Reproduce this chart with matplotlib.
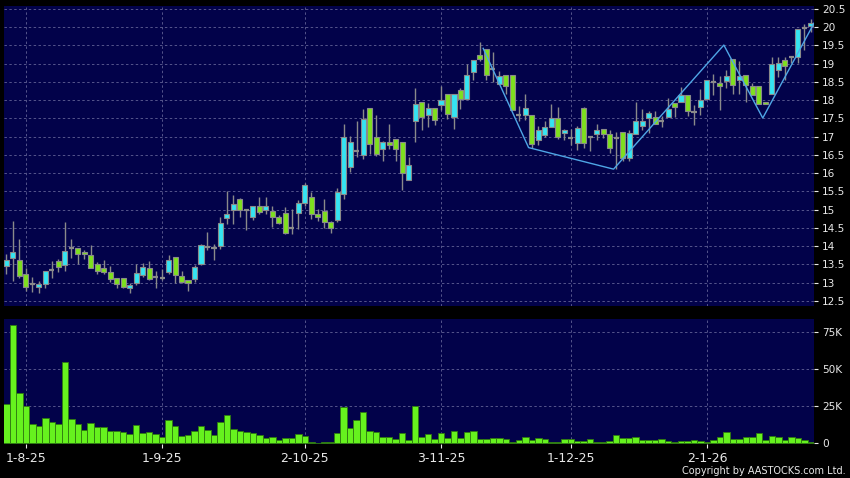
import matplotlib
matplotlib.use("Agg")
import matplotlib.pyplot as plt

# ---------------- data ----------------
opens = [13.46, 13.68, 13.63, 13.24, 12.95, 12.89, 12.96, 13.36, 13.60, 13.49,
         13.96, 13.96, 13.85, 13.77, 13.51, 13.41, 13.30, 13.13, 13.13, 12.84,
         13.00, 13.22, 13.39, 13.16, 13.13, 13.30, 13.70, 13.19, 13.07, 13.11,
         13.52, 13.98, 13.95, 14.00, 14.78, 15.00, 15.30, 14.98, 14.81, 15.09,
         14.98, 14.97, 14.80, 14.90, 14.51, 14.90, 15.18, 15.36, 14.88, 14.97,
         14.67, 14.71, 15.44, 16.17, 16.61, 16.49, 17.78, 17.00, 16.66, 16.84,
         16.93, 16.84, 15.81, 17.43, 17.95, 17.60, 17.78, 17.87, 18.18, 17.55,
         18.27, 18.04, 18.77, 19.24, 19.41, 18.86, 18.45, 18.68, 18.68, 17.58,
         17.60, 17.58, 16.90, 17.05, 17.27, 17.50, 17.09, 16.96, 16.82, 17.78,
         17.00, 17.07, 17.22, 17.06, 16.97, 17.14, 16.41, 17.08, 17.28, 17.50,
         17.55, 17.44, 17.53, 17.91, 17.96, 18.14, 17.67, 17.81, 18.03, 18.49,
         18.48, 18.52, 19.12, 18.55, 18.69, 18.39, 18.39, 17.96, 18.16, 18.83,
         19.10, 19.18, 19.19, 19.98, 20.02]
highs = [13.79, 14.68, 14.19, 13.41, 13.15, 13.05, 13.33, 13.58, 13.66, 14.66,
         14.19, 13.96, 13.90, 14.04, 13.57, 13.61, 13.45, 13.13, 13.13, 12.99,
         13.52, 13.55, 13.60, 13.33, 13.37, 13.75, 13.70, 13.33, 13.07, 13.47,
         14.06, 14.40, 14.06, 14.79, 15.50, 15.39, 15.32, 15.02, 15.09, 15.34,
         15.34, 15.11, 14.85, 15.06, 15.01, 15.26, 15.73, 15.47, 15.01, 15.29,
         14.69, 15.59, 17.36, 17.02, 17.43, 17.75, 17.78, 17.60, 16.89, 17.34,
         16.93, 16.84, 16.44, 18.34, 17.95, 17.93, 17.78, 18.38, 18.18, 18.18,
         18.32, 19.00, 19.11, 19.59, 19.41, 19.32, 18.80, 18.68, 18.68, 17.85,
         18.18, 17.58, 17.28, 17.44, 17.90, 17.81, 17.20, 17.20, 17.28, 17.81,
         17.00, 17.36, 17.22, 17.18, 17.14, 17.14, 17.18, 17.94, 17.75, 17.69,
         17.69, 17.57, 18.07, 17.91, 18.37, 18.14, 17.87, 18.30, 18.56, 18.72,
         18.65, 18.83, 19.12, 19.06, 18.69, 18.46, 18.39, 17.96, 19.19, 19.19,
         19.19, 19.18, 19.95, 20.10, 20.22]
lows = [13.23, 13.04, 13.13, 12.76, 12.74, 12.72, 12.86, 13.12, 13.29, 13.33,
        13.68, 13.50, 13.66, 13.41, 13.25, 13.24, 13.02, 12.84, 12.84, 12.72,
        12.93, 13.16, 13.07, 12.84, 13.08, 13.25, 13.00, 12.98, 12.76, 13.02,
        13.49, 13.89, 13.62, 13.93, 14.61, 14.61, 14.80, 14.45, 14.72, 14.89,
        14.89, 14.52, 14.60, 14.33, 14.33, 14.47, 15.10, 14.74, 14.69, 14.51,
        14.35, 14.65, 15.29, 16.02, 16.43, 16.40, 16.52, 16.47, 16.34, 16.66,
        16.34, 15.54, 15.81, 16.85, 17.19, 17.26, 17.31, 17.74, 17.49, 17.22,
        17.77, 18.04, 18.54, 19.07, 18.54, 18.50, 18.45, 18.18, 17.72, 17.43,
        17.47, 16.70, 16.77, 16.98, 17.28, 16.93, 16.91, 16.77, 16.63, 16.68,
        16.61, 16.91, 16.95, 16.56, 16.11, 16.32, 16.32, 17.08, 17.18, 17.11,
        17.35, 17.26, 17.53, 17.53, 17.96, 17.57, 17.32, 17.60, 18.03, 18.14,
        17.73, 18.33, 18.16, 18.16, 17.96, 18.14, 17.90, 17.90, 18.16, 18.64,
        18.55, 19.01, 19.01, 19.38, 19.88]
closes = [13.63, 13.85, 13.19, 12.89, 12.95, 12.97, 13.33, 13.36, 13.44, 13.88,
          13.96, 13.78, 13.78, 13.41, 13.31, 13.30, 13.09, 12.95, 12.87, 12.93,
          13.27, 13.43, 13.09, 13.16, 13.13, 13.63, 13.20, 13.02, 12.98, 13.43,
          14.04, 13.98, 13.95, 14.64, 14.89, 15.16, 14.98, 14.98, 15.09, 14.93,
          15.10, 14.80, 14.63, 14.37, 14.51, 15.18, 15.67, 14.88, 14.79, 14.65,
          14.49, 15.47, 16.98, 16.84, 16.61, 17.48, 16.81, 16.52, 16.84, 16.77,
          16.66, 16.00, 16.22, 17.90, 17.55, 17.78, 17.45, 18.01, 17.63, 18.18,
          18.02, 18.70, 19.09, 19.13, 18.68, 18.86, 18.66, 18.40, 17.72, 17.58,
          17.78, 16.79, 17.18, 17.27, 17.50, 16.99, 17.18, 16.96, 17.25, 16.82,
          17.00, 17.18, 17.07, 16.69, 16.97, 16.41, 17.11, 17.44, 17.42, 17.66,
          17.35, 17.44, 17.75, 17.80, 18.14, 17.70, 17.67, 18.01, 18.54, 18.49,
          18.39, 18.66, 18.42, 18.66, 18.42, 18.14, 17.90, 17.90, 18.98, 19.01,
          18.94, 19.18, 19.94, 19.98, 20.11]
volumes_k = [26.8, 80.0, 33.6, 24.8, 12.8, 11.9, 16.9, 14.2, 13.3, 54.7,
             16.4, 12.8, 9.0, 13.5, 10.8, 11.0, 8.3, 8.3, 7.4, 6.3,
             12.4, 7.0, 7.7, 6.1, 4.3, 15.5, 11.5, 5.0, 5.4, 8.3,
             11.7, 8.8, 5.4, 14.6, 18.9, 9.7, 8.1, 7.9, 7.0, 5.9,
             3.4, 4.3, 2.3, 3.8, 3.8, 6.1, 5.2, 1.1, 0.5, 0.9,
             0.9, 6.8, 24.3, 10.4, 15.8, 20.9, 8.3, 7.4, 4.3, 4.3,
             2.9, 6.8, 2.3, 25.0, 4.0, 6.5, 2.7, 6.8, 3.4, 8.6,
             3.6, 7.7, 8.1, 3.2, 3.2, 3.4, 3.4, 2.7, 1.1, 2.3,
             4.1, 2.3, 3.6, 2.9, 0.7, 0.7, 2.7, 2.9, 1.6, 1.6,
             2.7, 0.9, 0.7, 1.8, 5.6, 3.8, 3.6, 4.5, 2.3, 2.3,
             2.0, 2.7, 1.8, 0.7, 1.8, 1.8, 2.0, 1.6, 0.7, 2.0,
             4.1, 7.7, 2.7, 2.9, 4.3, 4.3, 7.2, 2.3, 5.2, 4.5,
             2.3, 4.1, 3.6, 2.0, 0.7]
zigzag_idx = [73.5, 80.5, 93.6, 110.6, 116.6, 124.6]
zigzag_price = [19.42, 16.70, 16.11, 19.51, 17.51, 20.14]
xtick_idx = [3, 24, 46, 67, 87, 108]
xtick_labels = ["1-8-25", "1-9-25", "2-10-25", "3-11-25", "1-12-25", "2-1-26"]
price_ticks = [12.5, 13, 13.5, 14, 14.5, 15, 15.5, 16, 16.5, 17, 17.5, 18, 18.5, 19, 19.5, 20, 20.5]
price_tick_labels = ["12.5", "13", "13.5", "14", "14.5", "15", "15.5", "16", "16.5",
                     "17", "17.5", "18", "18.5", "19", "19.5", "20", "20.5"]
vol_ticks = [0, 25, 50, 75]
vol_tick_labels = ["0", "25K", "50K", "75K"]

# ---------------- style ----------------
BG = "#000000"
PANEL = "#02024A"
GRID = "#55558C"
UP = "#35E4F2"
DOWN = "#7EE01E"
EDGE = "#8A8A8A"
VOL = "#66F21E"
VOL_EDGE = "#2F7A10"
TXT = "#E8E8E8"

plt.rcParams["font.family"] = ["DejaVu Sans"]

fig = plt.figure(figsize=(8.5, 4.78), dpi=100, facecolor=BG)
W, H = 850.0, 478.0
ax1 = fig.add_axes([4 / W, 1 - 306 / H, 810 / W, 300 / H])
ax2 = fig.add_axes([4 / W, 1 - 444 / H, 810 / W, 125 / H])

xlim = (-0.37, 124.5)
for ax in (ax1, ax2):
    ax.set_facecolor(PANEL)
    for s in ax.spines.values():
        s.set_visible(False)
    ax.set_xlim(*xlim)
    ax.yaxis.tick_right()
    ax.tick_params(axis="y", colors=TXT, labelsize=7.6, length=3, width=0.8,
                   pad=3, direction="out")
    for xg in xtick_idx:
        ax.axvline(xg, color=GRID, lw=0.7, ls=(0, (2.5, 2.5)), zorder=0.5)

# price panel
ax1.set_ylim(12.36, 20.58)
ax1.set_yticks(price_ticks)
ax1.set_yticklabels(price_tick_labels)
ax1.set_xticks([])
for yv in price_ticks:
    ax1.axhline(yv, color=GRID, lw=0.7, ls=(0, (2.5, 2.5)), zorder=0.5)

n = len(opens)
idx = list(range(n))
ax1.vlines(idx, lows, highs, color=EDGE, lw=1.0, zorder=2)
body_w = 0.78
for i in idx:
    o, c = opens[i], closes[i]
    if abs(c - o) < 1e-9:
        ax1.hlines(o, i - body_w / 2, i + body_w / 2, color=EDGE, lw=1.6, zorder=3)
    else:
        col = UP if c > o else DOWN
        ax1.bar(i, abs(c - o), bottom=min(o, c), width=body_w, color=col,
                edgecolor=EDGE, linewidth=0.8, zorder=3)

ax1.plot(zigzag_idx, zigzag_price, color="#4FA6E6", lw=1.0, zorder=4, clip_on=True)

# volume panel
ax2.set_ylim(-0.5, 83.8)
ax2.set_yticks(vol_ticks)
ax2.set_yticklabels(vol_tick_labels)
for yv in vol_ticks[1:]:
    ax2.axhline(yv, color=GRID, lw=0.7, ls=(0, (2.5, 2.5)), zorder=0.5)
ax2.bar(idx, volumes_k, width=1.0, color=VOL, edgecolor=VOL_EDGE, linewidth=0.6, zorder=3)
ax2.set_xticks(xtick_idx)
ax2.set_xticklabels(xtick_labels)
ax2.tick_params(axis="x", colors=TXT, labelsize=9, length=3, width=0.8, pad=3,
                direction="out")

fig.text(846 / W, 1 - 471.5 / H, "Copyright by AASTOCKS.com Ltd.", ha="right",
         va="center", color=TXT, fontsize=7)

fig.savefig("out.png", dpi=100, facecolor=BG)
